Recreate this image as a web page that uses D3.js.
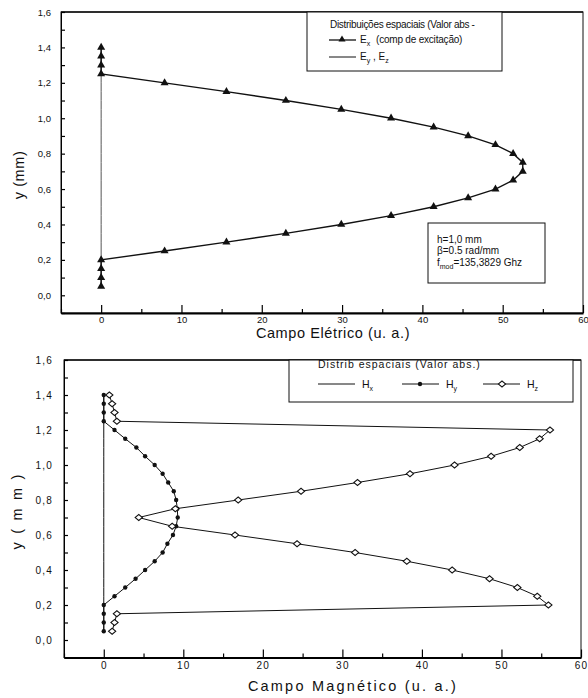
<!DOCTYPE html>
<html>
<head>
<meta charset="utf-8">
<script src="https://cdn.jsdelivr.net/npm/d3@7"></script>
<style>
  body { margin: 0; background: #fff; }
  text { font-family: "Liberation Sans", Arial, sans-serif; fill: #111; }
</style>
</head>
<body>
<div id="chart"></div>
<script>
// positions along y (mm)
var yPos = [0.05, 0.10, 0.15, 0.20, 0.25, 0.30, 0.35, 0.40, 0.45, 0.50, 0.55, 0.60, 0.65, 0.70,
            0.75, 0.80, 0.85, 0.90, 0.95, 1.00, 1.05, 1.10, 1.15, 1.20, 1.25, 1.30, 1.35, 1.40];

// electric field (u. a.)
var exVals = [0, 0, 0, 0, 7.9, 15.6, 23.0, 29.9, 36.1, 41.4, 45.7, 49.1, 51.3, 52.5,
              52.5, 51.3, 49.1, 45.7, 41.4, 36.1, 29.9, 23.0, 15.6, 7.9, 0, 0, 0, 0];
var eyzVals = [0, 0, 0, 0, 0, 0, 0, 0, 0, 0, 0, 0, 0, 0,
               0, 0, 0, 0, 0, 0, 0, 0, 0, 0, 0, 0, 0, 0];

// magnetic field (u. a.)
var hxVals = [0, 0, 0, 0, 0, 0, 0, 0, 0, 0, 0, 0, 0, 0,
              0, 0, 0, 0, 0, 0, 0, 0, 0, 0, 0, 0, 0, 0];
var hyVals = [0, 0, 0, 0, 1.35, 2.7, 4.0, 5.2, 6.4, 7.4, 8.0, 8.7, 9.1, 9.3,
              9.25, 9.1, 8.8, 8.1, 7.4, 6.4, 5.2, 4.1, 2.7, 1.35, 0, 0, 0, 0];
var hzVals = [1.05, 1.35, 1.65, 55.9, 54.5, 52.0, 48.5, 43.8, 38.1, 31.6, 24.3, 16.5, 8.6, 4.4,
              9.0, 16.9, 24.8, 31.9, 38.5, 44.1, 48.7, 52.3, 54.8, 56.1, 1.65, 1.35, 1.05, 0.7];

var xMajor = [0, 10, 20, 30, 40, 50, 60];
var xMinor = [-5, 5, 15, 25, 35, 45, 55];
var yMajor = [0.0, 0.2, 0.4, 0.6, 0.8, 1.0, 1.2, 1.4, 1.6];
var yMinor = [-0.1, 0.1, 0.3, 0.5, 0.7, 0.9, 1.1, 1.3, 1.5];

var W = 588, H = 698;
var svg = d3.select("#chart").append("svg").attr("width", W).attr("height", H);

var fmt = function(d) { return d3.format(".1f")(d).replace(".", ","); };

function panel(x0, x1, y0, y1, opts) {
  var x = d3.scaleLinear().domain([-5, 60]).range([x0, x1]);
  var y = d3.scaleLinear().domain([-0.1, 1.6]).range([y1, y0]);
  var g = svg.append("g");

  g.append("rect").attr("x", x0).attr("y", y0).attr("width", x1 - x0).attr("height", y1 - y0)
    .attr("fill", "none").attr("stroke", "#111").attr("stroke-width", 1);
  g.append("line").attr("x1", x0).attr("x2", x1).attr("y1", y0).attr("y2", y0)
    .attr("stroke", "#111").attr("stroke-width", 1.6);

  // y axis, ticks pointing inward
  var ya = g.append("g").attr("transform", "translate(" + x0 + ",0)")
    .call(d3.axisLeft(y).tickValues(yMajor).tickSizeInner(-4).tickSizeOuter(0)
      .tickPadding(opts.yPad).tickFormat(fmt));
  g.append("g").attr("transform", "translate(" + x0 + ",0)")
    .call(d3.axisLeft(y).tickValues(yMinor).tickSizeInner(-4).tickSizeOuter(0).tickFormat(""))
    .select(".domain").remove();
  ya.selectAll("text").style("font-size", opts.tickFont + "px").style("letter-spacing", opts.tickLs + "px");

  // x axis
  var xa = g.append("g").attr("transform", "translate(0," + y1 + ")")
    .call(d3.axisBottom(x).tickValues(xMajor).tickSizeInner(-8).tickSizeOuter(0)
      .tickPadding(opts.xPad).tickFormat(d3.format("d")));
  g.append("g").attr("transform", "translate(0," + y1 + ")")
    .call(d3.axisBottom(x).tickValues(xMinor).tickSizeInner(-4).tickSizeOuter(0).tickFormat(""))
    .select(".domain").remove();
  xa.select(".domain").attr("stroke-width", 2);
  xa.selectAll("text").style("font-size", opts.tickFont + "px").style("letter-spacing", opts.tickLs + "px");
  g.selectAll(".tick line").attr("stroke-width", 1.2);

  // titles
  g.append("text").attr("x", opts.xTitleX).attr("y", opts.xTitleY).attr("text-anchor", "middle")
    .style("font-size", "14.5px").style("letter-spacing", opts.titleLs + "px").text(opts.xTitle);
  g.append("text").attr("transform", "translate(" + opts.yTitleX + "," + opts.yTitleY + ") rotate(-90)")
    .attr("text-anchor", "middle").style("font-size", "14.5px")
    .style("letter-spacing", opts.titleLs + "px").text(opts.yTitle);

  return { g: g, x: x, y: y };
}

function series(p, vals, stroke, width) {
  var pts = yPos.map(function(v, i) { return [vals[i], v]; });
  var line = d3.line().x(function(d) { return p.x(d[0]); }).y(function(d) { return p.y(d[1]); });
  p.g.append("path").datum(pts).attr("d", line).attr("fill", "none")
    .attr("stroke", stroke).attr("stroke-width", width);
  return pts;
}

// ---------- top: electric field ----------
var pE = panel(61, 583, 12, 313, {
  yPad: 10, xPad: 3, tickFont: 9.5, tickLs: 0, titleLs: 0.6,
  xTitle: "Campo Elétrico (u. a.)", xTitleX: 333, xTitleY: 338,
  yTitle: "y (mm)", yTitleX: 24, yTitleY: 175
});

series(pE, eyzVals, "#555", 1);
var exPts = series(pE, exVals, "#111", 1.4);
pE.g.selectAll("path.tri").data(exPts).enter().append("path").attr("class", "tri")
  .attr("d", d3.symbol().type(d3.symbolTriangle).size(28))
  .attr("transform", function(d) { return "translate(" + pE.x(d[0]) + "," + pE.y(d[1]) + ")"; })
  .attr("fill", "#111");

// legend
var lg = pE.g.append("g");
lg.append("rect").attr("x", 307).attr("y", 12).attr("width", 195).attr("height", 59)
  .attr("fill", "#fff").attr("stroke", "#111");
lg.append("text").attr("x", 330).attr("y", 28).style("font-size", "10px").style("letter-spacing", "-0.3px")
  .text("Distribuições espaciais (Valor  abs -");
lg.append("line").attr("x1", 329).attr("x2", 356).attr("y1", 40).attr("y2", 40).attr("stroke", "#111").attr("stroke-width", 1.3);
lg.append("path").attr("d", d3.symbol().type(d3.symbolTriangle).size(22)).attr("transform", "translate(342,39.5)").attr("fill", "#111");
var t1 = lg.append("text").attr("x", 360).attr("y", 43).style("font-size", "10px");
t1.append("tspan").text("E");
t1.append("tspan").attr("dy", 3).style("font-size", "7px").text("x");
t1.append("tspan").attr("dy", -3).attr("x", 376).style("letter-spacing", "-0.2px").text("(comp  de excitação)");
lg.append("line").attr("x1", 329).attr("x2", 356).attr("y1", 57).attr("y2", 57).attr("stroke", "#111").attr("stroke-width", 1);
var t2 = lg.append("text").attr("x", 360).attr("y", 60).style("font-size", "10px");
t2.append("tspan").text("E");
t2.append("tspan").attr("dy", 3).style("font-size", "7px").text("y");
t2.append("tspan").attr("dy", -3).text(" , E");
t2.append("tspan").attr("dy", 3).style("font-size", "7px").text("z");

// parameters box
var pb = pE.g.append("g");
pb.append("rect").attr("x", 428).attr("y", 223).attr("width", 117).attr("height", 60)
  .attr("fill", "#fff").attr("stroke", "#111");
pb.append("text").attr("x", 437).attr("y", 243).style("font-size", "10px").text("h=1,0 mm");
pb.append("text").attr("x", 437).attr("y", 254).style("font-size", "10px").text("β=0.5 rad/mm");
var t3 = pb.append("text").attr("x", 437).attr("y", 266).style("font-size", "10px");
t3.append("tspan").text("f");
t3.append("tspan").attr("dy", 3).style("font-size", "7px").text("mod");
t3.append("tspan").attr("dy", -3).text("=135,3829 Ghz");

// ---------- bottom: magnetic field ----------
var pH = panel(64, 581, 360, 657.5, {
  yPad: 11, xPad: 4, tickFont: 10, tickLs: 1.2, titleLs: 2.2,
  xTitle: "Campo Magnético (u. a.)", xTitleX: 353, xTitleY: 691,
  yTitle: "y ( m m )", yTitleX: 22, yTitleY: 511
});

series(pH, hxVals, "#111", 1);
var hyPts = series(pH, hyVals, "#111", 1);
var hzPts = series(pH, hzVals, "#111", 1);
pH.g.selectAll("circle.hy").data(hyPts).enter().append("circle").attr("class", "hy")
  .attr("cx", function(d) { return pH.x(d[0]); }).attr("cy", function(d) { return pH.y(d[1]); })
  .attr("r", 2.2).attr("fill", "#111");
pH.g.selectAll("path.hz").data(hzPts).enter().append("path").attr("class", "hz")
  .attr("d", d3.symbol().type(d3.symbolSquare).size(20))
  .attr("transform", function(d) { return "translate(" + pH.x(d[0]) + "," + pH.y(d[1]) + ") scale(1.15,0.95) rotate(45)"; })
  .attr("fill", "#fff").attr("stroke", "#111").attr("stroke-width", 1);

// legend
var lb = pH.g.append("g");
lb.append("rect").attr("x", 289).attr("y", 360).attr("width", 284).attr("height", 42)
  .attr("fill", "#fff").attr("stroke", "#111");
lb.append("text").attr("x", 318).attr("y", 368).style("font-size", "10.5px").style("letter-spacing", "1px")
  .text("Distrib  espaciais (Valor  abs.)");
var hLeg = [
  { x: 318, lab: "x", mark: "none" },
  { x: 402, lab: "y", mark: "dot" },
  { x: 483, lab: "z", mark: "dia" }
];
hLeg.forEach(function(h) {
  lb.append("line").attr("x1", h.x).attr("x2", h.x + 37).attr("y1", 384).attr("y2", 384).attr("stroke", "#111");
  if (h.mark == "dot") lb.append("circle").attr("cx", h.x + 18).attr("cy", 384).attr("r", 2.2).attr("fill", "#111");
  if (h.mark == "dia") lb.append("path").attr("d", d3.symbol().type(d3.symbolSquare).size(20))
    .attr("transform", "translate(" + (h.x + 19) + ",384) scale(1.15,0.95) rotate(45)")
    .attr("fill", "#fff").attr("stroke", "#111");
  var t = lb.append("text").attr("x", h.x + 44).attr("y", 388).style("font-size", "10.5px");
  t.append("tspan").text("H");
  t.append("tspan").attr("dy", 3).style("font-size", "7px").text(h.lab);
});
</script>
</body>
</html>
